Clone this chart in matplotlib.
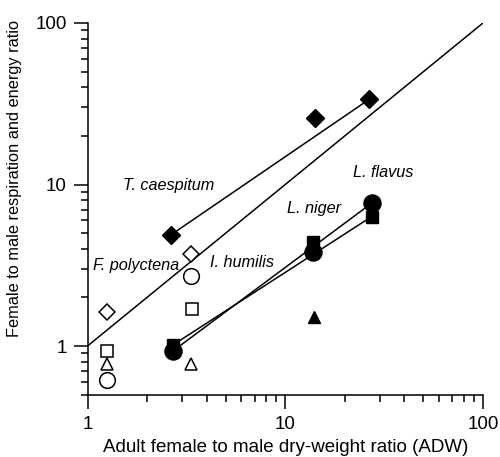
import matplotlib.pyplot as plt
import numpy as np

plt.rcParams['font.family'] = ['Liberation Sans', 'DejaVu Sans']

# ratios
# filled symbols
dia_x = np.array([2.65, 14.1, 26.6])
dia_y = np.array([4.89, 25.8, 33.7])
sq_x = np.array([2.72, 13.8, 27.3])
sq_y = np.array([1.02, 4.43, 6.32])
circ_x = np.array([2.70, 13.8, 27.3])
circ_y = np.array([0.93, 3.84, 7.65])
tri_x = np.array([13.9])
tri_y = np.array([1.52])

# open symbols
odia_x = np.array([1.26, 3.35])
odia_y = np.array([1.63, 3.71])
ocirc_x = np.array([1.25, 3.35])
ocirc_y = np.array([0.615, 2.72])
osq_x = np.array([1.25, 3.38])
osq_y = np.array([0.93, 1.69])
otri_x = np.array([1.25, 3.35])
otri_y = np.array([0.77, 0.77])

one_to_one = np.array([1, 100])

species = ['T. caespitum', 'F. polyctena', 'I. humilis', 'L. niger', 'L. flavus']
label_x = [1.51, 1.06, 4.16, 10.2, 21.9]
label_y = [9.9, 3.17, 3.31, 7.15, 11.8]

fig = plt.figure(figsize=(5.0, 4.57), dpi=100)
ax = fig.add_axes([0.175, 0.1346, 0.791, 0.8151])

lw = 1.1
ax.plot(one_to_one, one_to_one, color='black', lw=lw)
ax.plot(dia_x[[0, -1]], dia_y[[0, -1]], color='black', lw=lw)
ax.plot(sq_x[[0, -1]], sq_y[[0, -1]], color='black', lw=lw)
ax.plot(circ_x[[0, -1]], circ_y[[0, -1]], color='black', lw=lw)

ax.plot(dia_x, dia_y, 'D', color='black', ms=8.8, ls='none')
ax.plot(sq_x, sq_y, 's', color='black', ms=8.8, ls='none')
ax.plot(circ_x, circ_y, 'o', color='black', ms=12.3, ls='none')
ax.plot(tri_x, tri_y, '^', color='black', ms=9.3, ls='none')

ax.plot(odia_x, odia_y, 'D', mfc='white', mec='black', mew=1.1, ms=8.4, ls='none')
ax.plot(ocirc_x, ocirc_y, 'o', mfc='white', mec='black', mew=1.1, ms=11.3, ls='none')
ax.plot(osq_x, osq_y, 's', mfc='white', mec='black', mew=1.1, ms=8.3, ls='none')
ax.plot(otri_x, otri_y, '^', mfc='white', mec='black', mew=1.1, ms=9.3, ls='none')

for name, tx, ty in zip(species, label_x, label_y):
    ax.text(tx, ty, name, style='italic', fontsize=11.7, ha='left', va='center')

ax.set_xscale('log')
ax.set_yscale('log')
ax.set_xlim(1, 100)
ax.set_ylim(0.494, 100)
ax.set_xticks([1, 10, 100])
ax.set_xticklabels(['1', '10', '100'])
ax.set_yticks([1, 10, 100])
ax.set_yticklabels(['1', '10', '100'])
ax.spines['top'].set_visible(False)
ax.spines['right'].set_visible(False)
for s in ['left', 'bottom']:
    ax.spines[s].set_linewidth(1.1)
ax.tick_params(which='major', direction='out', length=10, width=1.1, labelsize=13.5, pad=5)
ax.tick_params(which='minor', direction='out', length=5, width=1.1)

ax.set_xlabel('Adult female to male dry-weight ratio (ADW)', fontsize=13.5, labelpad=4)
ax.set_ylabel('Female to male respiration and energy ratio', fontsize=11.8)
ax.yaxis.set_label_coords(-0.166, 0.584)

fig.savefig('out.png', dpi=100)
